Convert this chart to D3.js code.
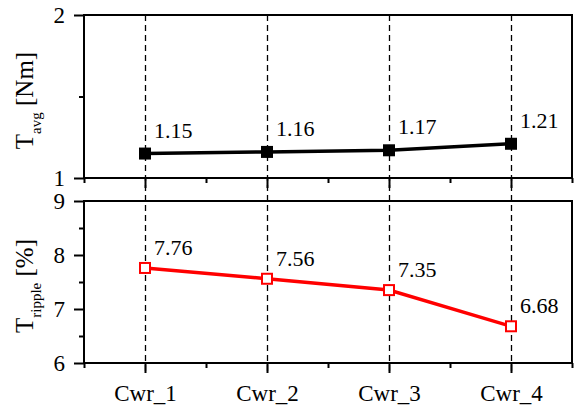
<!DOCTYPE html>
<html>
<head>
<meta charset="utf-8">
<script src="https://cdn.jsdelivr.net/npm/d3@7"></script>
<style>
  html, body { margin: 0; padding: 0; background: #fff; }
  svg { display: block; }
  svg text { font-family: "Liberation Serif", "Times New Roman", Times, "DejaVu Serif", serif !important; fill: #000; }
</style>
</head>
<body>
<svg id="chart" width="583" height="412"></svg>
<script>
const categories = ["Cwr_1", "Cwr_2", "Cwr_3", "Cwr_4"];
const avgValues = [1.15, 1.16, 1.17, 1.21];
const rippleValues = [7.76, 7.56, 7.35, 6.68];
const avgTicks = [1, 2];
const avgMinorTicks = [1.5];
const rippleTicks = [6, 7, 8, 9];
const rippleMinorTicks = [6.5, 7.5, 8.5];

const FONT = '"Liberation Serif", "Times New Roman", Times, "DejaVu Serif", serif';
const svg = d3.select("#chart").attr("font-family", FONT);
const left = 84, right = 572;
const top1 = 15, bot1 = 178;
const top2 = 201, bot2 = 363;

const x = d3.scaleLinear().domain([0.5, 4.5]).range([left, right]);
const y1 = d3.scaleLinear().domain([1, 2]).range([bot1, top1]);
const y2 = d3.scaleLinear().domain([6, 9]).range([bot2, top2]);

// dashed vertical lines
svg.append("g").selectAll("line").data(categories).join("line")
  .attr("x1", (d, i) => Math.round(x(i + 1)) + 0.5).attr("x2", (d, i) => Math.round(x(i + 1)) + 0.5)
  .attr("y1", top1).attr("y2", bot2 + 10)
  .attr("stroke", "#000").attr("stroke-width", 1.3)
  .attr("stroke-dasharray", "6,4");

function panel(y, top, bot, ticks, minor, values, color, filled, sub, unit, showXLabels, labelDy) {
  const g = svg.append("g");
  const ya = g.append("g").attr("transform", `translate(${left},0)`)
    .call(d3.axisLeft(y).tickValues(ticks).tickFormat(d3.format("d")).tickSize(10).tickPadding(9));
  ya.attr("font-family", FONT).attr("font-size", 23);
  ya.select(".domain").remove();
  ya.selectAll("line").attr("stroke-width", 2);
  const yam = g.append("g").attr("transform", `translate(${left},0)`)
    .call(d3.axisLeft(y).tickValues(minor).tickFormat("").tickSize(5));
  yam.select(".domain").remove();
  yam.selectAll("line").attr("stroke-width", 2);
  const xa = g.append("g").attr("transform", `translate(0,${bot})`)
    .call(d3.axisBottom(x).tickValues([1, 2, 3, 4]).tickFormat(d => showXLabels ? categories[d - 1] : "").tickSize(10).tickPadding(12));
  xa.attr("font-family", FONT).attr("font-size", 23);
  xa.select(".domain").remove();
  xa.selectAll("line").attr("stroke-width", 2);
  const xam = g.append("g").attr("transform", `translate(0,${bot})`)
    .call(d3.axisBottom(x).tickValues([0.5, 1.5, 2.5, 3.5, 4.5]).tickFormat("").tickSize(5));
  xam.select(".domain").remove();
  xam.selectAll("line").attr("stroke-width", 2);
  g.append("rect").attr("x", left).attr("y", top).attr("width", right - left).attr("height", bot - top)
    .attr("fill", "none").attr("stroke", "#000").attr("stroke-width", 2);
  const line = d3.line().x((d, i) => x(i + 1)).y(d => y(d));
  g.append("path").datum(values).attr("d", line)
    .attr("fill", "none").attr("stroke", color).attr("stroke-width", 3.5);
  const s = filled ? 12 : 10;
  g.selectAll("rect.m").data(values).join("rect").attr("class", "m")
    .attr("x", (d, i) => x(i + 1) - s / 2).attr("y", d => y(d) - s / 2)
    .attr("width", s).attr("height", s)
    .attr("fill", filled ? color : "#fff").attr("stroke", color).attr("stroke-width", filled ? 0 : 2);
  g.selectAll("text.v").data(values).join("text").attr("class", "v")
    .attr("x", (d, i) => x(i + 1) + 9).attr("y", d => y(d) + labelDy)
    .attr("font-family", FONT).attr("font-size", 22)
    .text(d => d.toFixed(2));
  const cy = (top + bot) / 2 + 4;
  const t = g.append("text").attr("transform", `translate(33,${cy}) rotate(-90)`)
    .attr("text-anchor", "middle").attr("font-family", FONT).attr("font-size", 25);
  t.append("tspan").text("T");
  t.append("tspan").attr("dy", 8).attr("font-size", 15).text(sub);
  t.append("tspan").attr("dy", -8).text("\u00a0" + unit);
}

panel(y1, top1, bot1, avgTicks, avgMinorTicks, avgValues, "#000", true, "avg", "[Nm]", false, -16);
panel(y2, top2, bot2, rippleTicks, rippleMinorTicks, rippleValues, "#ff0000", false, "ripple", "[%]", true, -13);
</script>
</body>
</html>
